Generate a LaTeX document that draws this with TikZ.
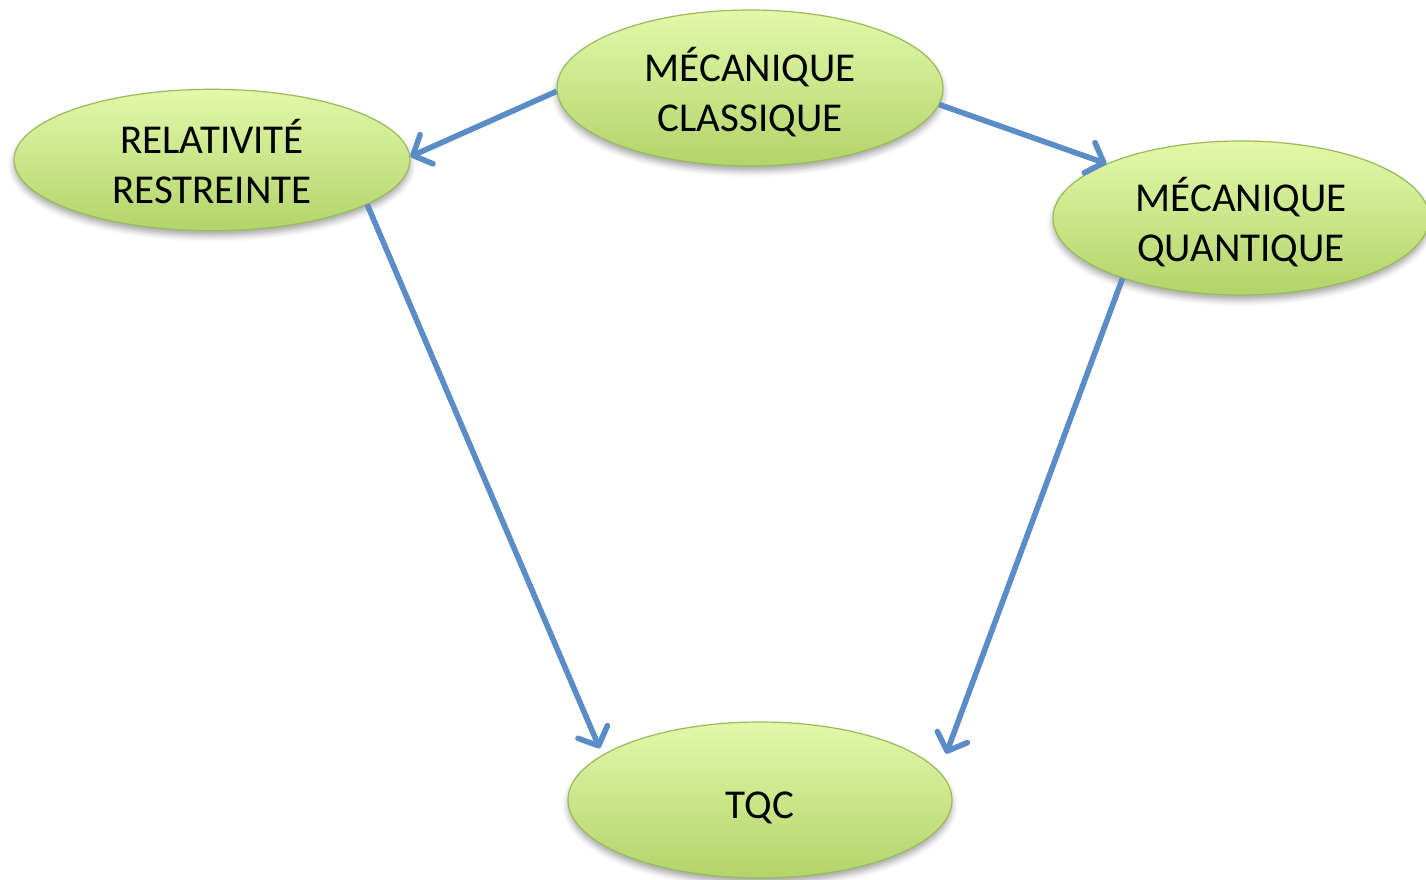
\documentclass[tikz,border=0pt]{standalone}
\usepackage{fontspec}
\setmainfont{Carlito}
\usetikzlibrary{arrows.meta,shapes.geometric,shadows.blur}
\definecolor{bubbletop}{HTML}{E3F8A9}
\definecolor{bubblebot}{HTML}{B2D46A}
\definecolor{bubbleedge}{HTML}{9BBB59}
\definecolor{linkblue}{HTML}{5A8CC8}
% uniform line box so every label sits the same way in its ellipse
\newcommand\linestrut{\rule[-6.8pt]{0pt}{50pt}}
\tikzset{
  bubble/.style={ellipse, draw=bubbleedge, line width=1.2pt,
    top color=bubbletop, bottom color=bubblebot, inner sep=0pt,
    align=center, font=\fontsize{41}{50}\selectfont,
    blur shadow={shadow xshift=0pt, shadow yshift=-5pt, shadow blur radius=6pt, shadow opacity=35}},
  link/.style={draw=linkblue, line width=5.6pt,
    -{Straight Barb[length=15pt,width=32pt,line width=5.6pt,round]}}
}
\begin{document}
\begin{tikzpicture}[x=1pt,y=-1pt]
\useasboundingbox (0,0) rectangle (1426,880);
\node[bubble, minimum width=386pt, minimum height=156pt] (mc) at (750,88) {\linestrut MÉCANIQUE\\\linestrut CLASSIQUE};
\node[bubble, minimum width=396pt, minimum height=136pt] (rr) at (212,160) {\linestrut RELATIVITÉ\\\linestrut RESTREINTE};
\node[bubble, minimum width=376pt, minimum height=154pt] (mq) at (1241,218) {\linestrut MÉCANIQUE\\\linestrut QUANTIQUE};
\node[bubble, minimum width=384pt, minimum height=156pt] (tqc) at (760,800) {\linestrut TQC};
\draw[link] (mc.181) -- (rr.1);
\draw[link] (mc.355) -- (mq.158);
\draw[link, shorten >=7pt] (rr.344) -- (tqc.164.7);
\draw[link, shorten >=19pt] (mq.207) -- (tqc.9.6);
\end{tikzpicture}
\end{document}
